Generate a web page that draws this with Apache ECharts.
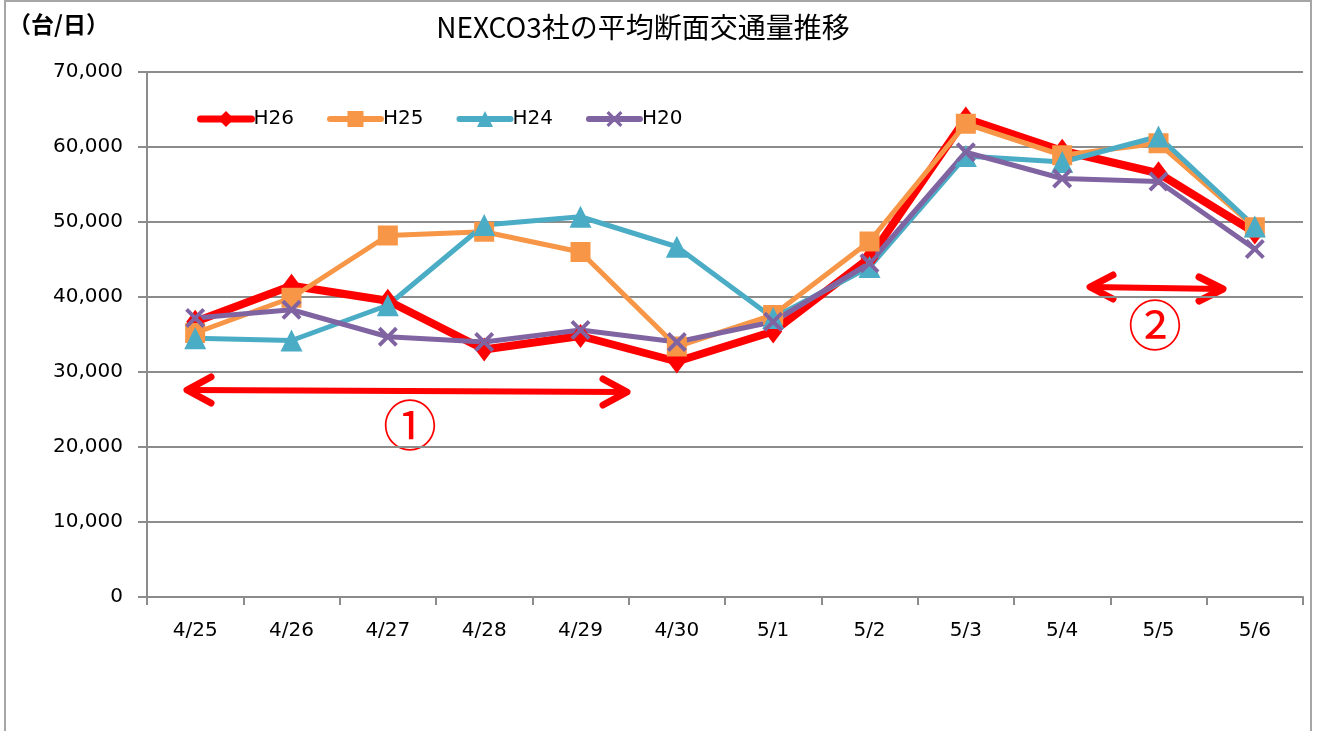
<!DOCTYPE html>
<html>
<head>
<meta charset="utf-8">
<script src="https://cdn.jsdelivr.net/npm/echarts@6/dist/echarts.min.js"></script>
<style>
html,body{margin:0;padding:0;background:#fff;}
#chart{width:1319px;height:731px;}
</style>
</head>
<body>
<div id="chart"></div>
<script>
const categories = ['4/25','4/26','4/27','4/28','4/29','4/30','5/1','5/2','5/3','5/4','5/5','5/6'];
const seriesNames = ['H26','H25','H24','H20'];
const h26 = [36700, 41500, 39500, 33000, 34800, 31400, 35400, 45200, 63800, 59500, 56500, 48600];
const h25 = [35200, 39900, 48200, 48700, 46000, 33400, 37600, 47400, 63100, 58900, 60500, 49300];
const h24 = [34500, 34200, 38900, 49600, 50700, 46700, 37200, 44000, 58800, 58000, 61400, 49400];
const h20 = [37200, 38300, 34700, 34000, 35600, 34000, 36700, 44500, 59300, 55800, 55400, 46400];
const yTicks = [0, 10000, 20000, 30000, 40000, 50000, 60000, 70000];
const titleText = 'NEXCO3社の平均断面交通量推移';
const unitText = '（台/日）';
const noteLabels = ['①', '②'];

const CJK = '"Noto Sans CJK JP", "Noto Sans", sans-serif';
const LAT = '"DejaVu Sans", "Noto Sans", sans-serif';
const crossPath = 'path://M0,1.4L1.4,0L5,3.6L8.6,0L10,1.4L6.4,5L10,8.6L8.6,10L5,6.4L1.4,10L0,8.6L3.6,5Z';

const chart = echarts.init(document.getElementById('chart'), null, {renderer:'canvas'});

function mkSeries(name, data, color, width, symbol, size) {
  return {
    name: name, type: 'line', data: data,
    symbol: symbol, symbolSize: size, showAllSymbol: true,
    lineStyle: {color: color, width: width, join: 'round', cap: 'round'},
    itemStyle: {color: color},
    emphasis: {disabled: true},
    animation: false
  };
}

const red = '#FF0000';
const arrowStyle = {stroke: red, lineWidth: 6, lineCap: 'round', lineJoin: 'round', fill: null};
const headStyle = {stroke: red, lineWidth: 7, lineCap: 'round', lineJoin: 'round', fill: null};

const option = {
  backgroundColor: '#fff',
  animation: false,
  title: {
    text: titleText, left: 638, top: 8, textAlign: 'center',
    textStyle: {fontFamily: CJK, fontSize: 28, fontWeight: 'normal', color: '#000'}
  },
  grid: {left: 147, right: 16, top: 72, bottom: 134, containLabel: false},
  legend: {
    data: [
      {name: seriesNames[0], lineStyle: {width: 7}},
      {name: seriesNames[1], lineStyle: {width: 6}},
      {name: seriesNames[2], lineStyle: {width: 6}},
      {name: seriesNames[3], lineStyle: {width: 6}}
    ],
    left: 192, top: 104, padding: 5,
    itemWidth: 51, itemHeight: 20, itemGap: 33,
    textStyle: {fontFamily: LAT, fontSize: 20, color: '#000', padding: [0,0,0,-3]}
  },
  xAxis: {
    type: 'category', data: categories, boundaryGap: true,
    axisLine: {lineStyle: {color: '#8c8c8c', width: 2}},
    axisTick: {show: true, length: 8, lineStyle: {color: '#8c8c8c', width: 2}},
    axisLabel: {fontFamily: LAT, fontSize: 20, color: '#000', margin: 24}
  },
  yAxis: {
    type: 'value', min: yTicks[0], max: yTicks[yTicks.length-1], interval: yTicks[1]-yTicks[0],
    axisLine: {show: true, lineStyle: {color: '#8c8c8c', width: 2}},
    axisTick: {show: true, length: 9, lineStyle: {color: '#8c8c8c', width: 2}},
    splitLine: {lineStyle: {color: '#8c8c8c', width: 2}},
    axisLabel: {fontFamily: LAT, fontSize: 20, color: '#000', margin: 24,
      formatter: v => v.toLocaleString('en-US')}
  },
  series: [
    mkSeries(seriesNames[0], h26, '#FF0000', 8, 'diamond', [18, 24]),
    mkSeries(seriesNames[1], h25, '#F79646', 5, 'rect', 20),
    mkSeries(seriesNames[2], h24, '#4BACC6', 5, 'triangle', 22),
    mkSeries(seriesNames[3], h20, '#8064A2', 5, crossPath, 20)
  ],
  graphic: [
    {type: 'rect', shape: {x: 5, y: 1, width: 1306, height: 760}, style: {stroke: '#a6a6a6', lineWidth: 2, fill: null}, silent: true},
    {type: 'text', left: 8, top: 13, style: {text: unitText, font: 'bold 23px ' + CJK, fill: '#000'}},
    {type: 'polyline', shape: {points: [[188,390],[626,392]]}, style: arrowStyle},
    {type: 'polyline', shape: {points: [[211,377],[187,390],[211,403]]}, style: headStyle},
    {type: 'polyline', shape: {points: [[603,379],[627,392],[603,405]]}, style: headStyle},
    {type: 'text', x: 410, y: 425, style: {text: noteLabels[0], font: '54px ' + CJK, fill: red, align: 'center', verticalAlign: 'middle'}},
    {type: 'polyline', shape: {points: [[1091,287],[1222,289]]}, style: arrowStyle},
    {type: 'polyline', shape: {points: [[1113,275],[1090,287],[1113,299]]}, style: headStyle},
    {type: 'polyline', shape: {points: [[1199,277],[1223,289],[1199,301]]}, style: headStyle},
    {type: 'text', x: 1155, y: 325, style: {text: noteLabels[1], font: '54px ' + CJK, fill: red, align: 'center', verticalAlign: 'middle'}}
  ]
};
chart.setOption(option);
</script>
</body>
</html>
